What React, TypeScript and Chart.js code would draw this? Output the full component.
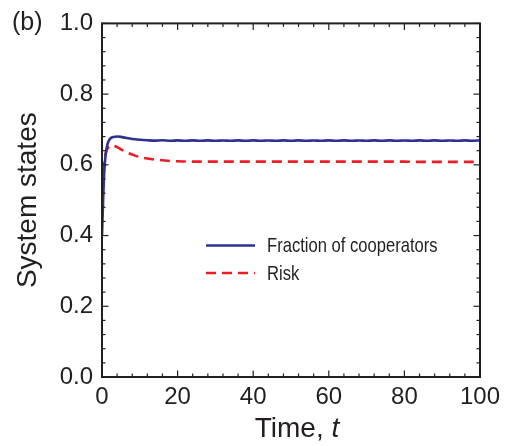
import { useEffect, useRef } from "react";
import { Chart, registerables } from "chart.js";

Chart.register(...registerables);

// Sampled time points (shared by both series)
const timeSteps = [
  0, 0.3, 0.6, 1, 1.5, 2, 2.5, 3, 4, 5, 6, 7, 8,
  10, 12, 14, 16, 18, 20, 22, 24, 26, 28, 30, 32, 34, 36, 38, 40, 42, 44, 46, 48,
  50, 52, 54, 56, 58, 60, 62, 64, 66, 68, 70, 72, 74, 76, 78, 80, 82, 84, 86, 88,
  90, 92, 94, 96, 98, 100,
];

// Fraction of cooperators over time
const cooperatorFraction = [
  0.4, 0.5, 0.58, 0.632, 0.66, 0.672, 0.677, 0.679, 0.68, 0.679, 0.677, 0.675, 0.673,
  0.671, 0.6695, 0.6685, 0.6695, 0.668, 0.6692, 0.668, 0.6692, 0.668, 0.6692, 0.668, 0.669, 0.668, 0.6692, 0.668, 0.6692, 0.668, 0.669, 0.668, 0.6692,
  0.668, 0.6692, 0.668, 0.669, 0.668, 0.6692, 0.668, 0.6692, 0.668, 0.669, 0.668, 0.6692, 0.668, 0.6692, 0.668, 0.669, 0.668, 0.6692, 0.668, 0.6692,
  0.668, 0.669, 0.668, 0.6692, 0.668, 0.669,
];

// Risk level over time
const riskLevel = [
  0.49, 0.56, 0.605, 0.633, 0.647, 0.653, 0.655, 0.654, 0.65, 0.644, 0.638, 0.633, 0.629,
  0.622, 0.618, 0.615, 0.613, 0.611, 0.61, 0.6095, 0.609, 0.609, 0.609, 0.609, 0.609, 0.609, 0.609, 0.609, 0.609, 0.609, 0.609, 0.609, 0.609,
  0.609, 0.609, 0.609, 0.609, 0.609, 0.609, 0.609, 0.609, 0.609, 0.609, 0.609, 0.609, 0.609, 0.609, 0.609, 0.609, 0.6085, 0.6085, 0.6085, 0.6085,
  0.6085, 0.6085, 0.6085, 0.6085, 0.6085, 0.6085,
];

const xTickValues = [0, 20, 40, 60, 80, 100];
const yTickValues = [0, 0.2, 0.4, 0.6, 0.8, 1.0];

const seriesNames = ["Fraction of cooperators", "Risk"];
const panelLabel = "(b)";
const yTitle = "System states";
const xTitleMain = "Time, ";
const xTitleVar = "t";

const INK = "#231f20";
const BLUE = "#2e3192";
const RED = "#ed1c24";
const FONT = "'Liberation Sans', Arial, Helvetica, sans-serif";
const DASH = [10, 6];

// Inward major/minor ticks on all four sides, the box frame, legend and extra labels
const decorPlugin = {
  id: "decor",
  afterDraw(chart: any) {
    const { ctx, chartArea } = chart;
    const { left, right, top, bottom } = chartArea;
    const xs = chart.scales.x;
    const ys = chart.scales.y;
    ctx.save();

    // ticks
    ctx.strokeStyle = INK;
    ctx.lineWidth = 1.2;
    const major = 6.5;
    const minor = 3.5;
    const seg = (x1: number, y1: number, x2: number, y2: number) => {
      ctx.beginPath();
      ctx.moveTo(x1, y1);
      ctx.lineTo(x2, y2);
      ctx.stroke();
    };
    for (let i = 0; i < xTickValues.length; i++) {
      const v = xTickValues[i];
      const px = xs.getPixelForValue(v);
      seg(px, bottom, px, bottom - major);
      seg(px, top, px, top + major);
      if (i < xTickValues.length - 1) {
        const step = (xTickValues[i + 1] - v) / 5;
        for (let k = 1; k < 5; k++) {
          const mx = xs.getPixelForValue(v + k * step);
          seg(mx, bottom, mx, bottom - minor);
          seg(mx, top, mx, top + minor);
        }
      }
    }
    for (let i = 0; i < yTickValues.length; i++) {
      const v = yTickValues[i];
      const py = ys.getPixelForValue(v);
      seg(left, py, left + major, py);
      seg(right, py, right - major, py);
      if (i < yTickValues.length - 1) {
        const step = (yTickValues[i + 1] - v) / 5;
        for (let k = 1; k < 5; k++) {
          const my = ys.getPixelForValue(v + k * step);
          seg(left, my, left + minor, my);
          seg(right, my, right - minor, my);
        }
      }
    }

    // frame
    ctx.lineWidth = 2;
    ctx.strokeRect(left, top, right - left, bottom - top);

    // legend
    const legX = 206;
    const legLen = 49;
    const rows = [245.5, 273];
    ctx.lineWidth = 2.6;
    ctx.strokeStyle = BLUE;
    ctx.setLineDash([]);
    seg(legX, rows[0], legX + legLen, rows[0]);
    ctx.strokeStyle = RED;
    ctx.setLineDash(DASH);
    seg(legX, rows[1], legX + legLen, rows[1]);
    ctx.setLineDash([]);
    ctx.fillStyle = INK;
    ctx.font = `21px ${FONT}`;
    ctx.textBaseline = "middle";
    ctx.textAlign = "left";
    rows.forEach((ry, i) => {
      ctx.save();
      ctx.translate(267, ry + 1);
      ctx.scale(0.79, 1);
      ctx.fillText(seriesNames[i], 0, 0);
      ctx.restore();
    });

    // panel label
    ctx.font = `25px ${FONT}`;
    ctx.textBaseline = "middle";
    ctx.fillText(panelLabel, 12, 23);

    // x-axis title with italic variable
    ctx.font = `28px ${FONT}`;
    const w1 = ctx.measureText(xTitleMain).width;
    ctx.font = `italic 28px ${FONT}`;
    const w2 = ctx.measureText(xTitleVar).width;
    const cx = (left + right) / 2 + 6;
    const startX = cx - (w1 + w2) / 2;
    ctx.textBaseline = "alphabetic";
    ctx.font = `28px ${FONT}`;
    ctx.fillText(xTitleMain, startX, 437);
    ctx.font = `italic 28px ${FONT}`;
    ctx.fillText(xTitleVar, startX + w1, 437);

    ctx.restore();
  },
};

export default function App() {
  const canvasRef = useRef<HTMLCanvasElement | null>(null);

  useEffect(() => {
    const canvas = canvasRef.current;
    if (!canvas) return;
    const toPoints = (vals: number[]) => timeSteps.map((t, i) => ({ x: t, y: vals[i] }));

    const chart = new Chart(canvas, {
      type: "line",
      data: {
        datasets: [
          {
            label: seriesNames[0],
            data: toPoints(cooperatorFraction),
            borderColor: BLUE,
            borderWidth: 2.6,
            pointRadius: 0,
            tension: 0.3,
            fill: false,
          },
          {
            label: seriesNames[1],
            data: toPoints(riskLevel),
            borderColor: RED,
            borderWidth: 2.6,
            borderDash: DASH,
            pointRadius: 0,
            tension: 0.3,
            fill: false,
          },
        ],
      },
      options: {
        animation: false,
        responsive: false,
        devicePixelRatio: 1,
        layout: { padding: { top: 21, right: 28, bottom: 0, left: 0 } },
        plugins: {
          legend: { display: false },
          tooltip: { enabled: false },
        },
        scales: {
          x: {
            type: "linear",
            min: xTickValues[0],
            max: xTickValues[xTickValues.length - 1],
            afterBuildTicks: (scale: any) => {
              scale.ticks = xTickValues.map((v) => ({ value: v }));
            },
            afterFit: (scale: any) => {
              scale.height = 69;
            },
            grid: { display: false, drawTicks: false },
            border: { display: false },
            ticks: {
              padding: 6,
              color: INK,
              maxRotation: 0,
              font: { family: FONT, size: 24 },
              callback: (v: any) => String(v),
            },
          },
          y: {
            type: "linear",
            min: yTickValues[0],
            max: yTickValues[yTickValues.length - 1],
            afterBuildTicks: (scale: any) => {
              scale.ticks = yTickValues.map((v) => ({ value: v }));
            },
            afterFit: (scale: any) => {
              scale.width = 102;
            },
            grid: { display: false, drawTicks: false },
            border: { display: false },
            title: {
              display: true,
              text: yTitle,
              color: INK,
              font: { family: FONT, size: 28 },
              padding: { top: 11, bottom: 0 },
            },
            ticks: {
              padding: 9,
              color: INK,
              font: { family: FONT, size: 24 },
              callback: (v: any) => Number(v).toFixed(1),
            },
          },
        },
      },
      plugins: [decorPlugin],
    });

    return () => chart.destroy();
  }, []);

  return (
    <div style={{ position: "fixed", left: 0, top: 0, width: 508, height: 446, background: "#fff" }}>
      <canvas ref={canvasRef} width={508} height={446} style={{ display: "block" }} />
    </div>
  );
}
